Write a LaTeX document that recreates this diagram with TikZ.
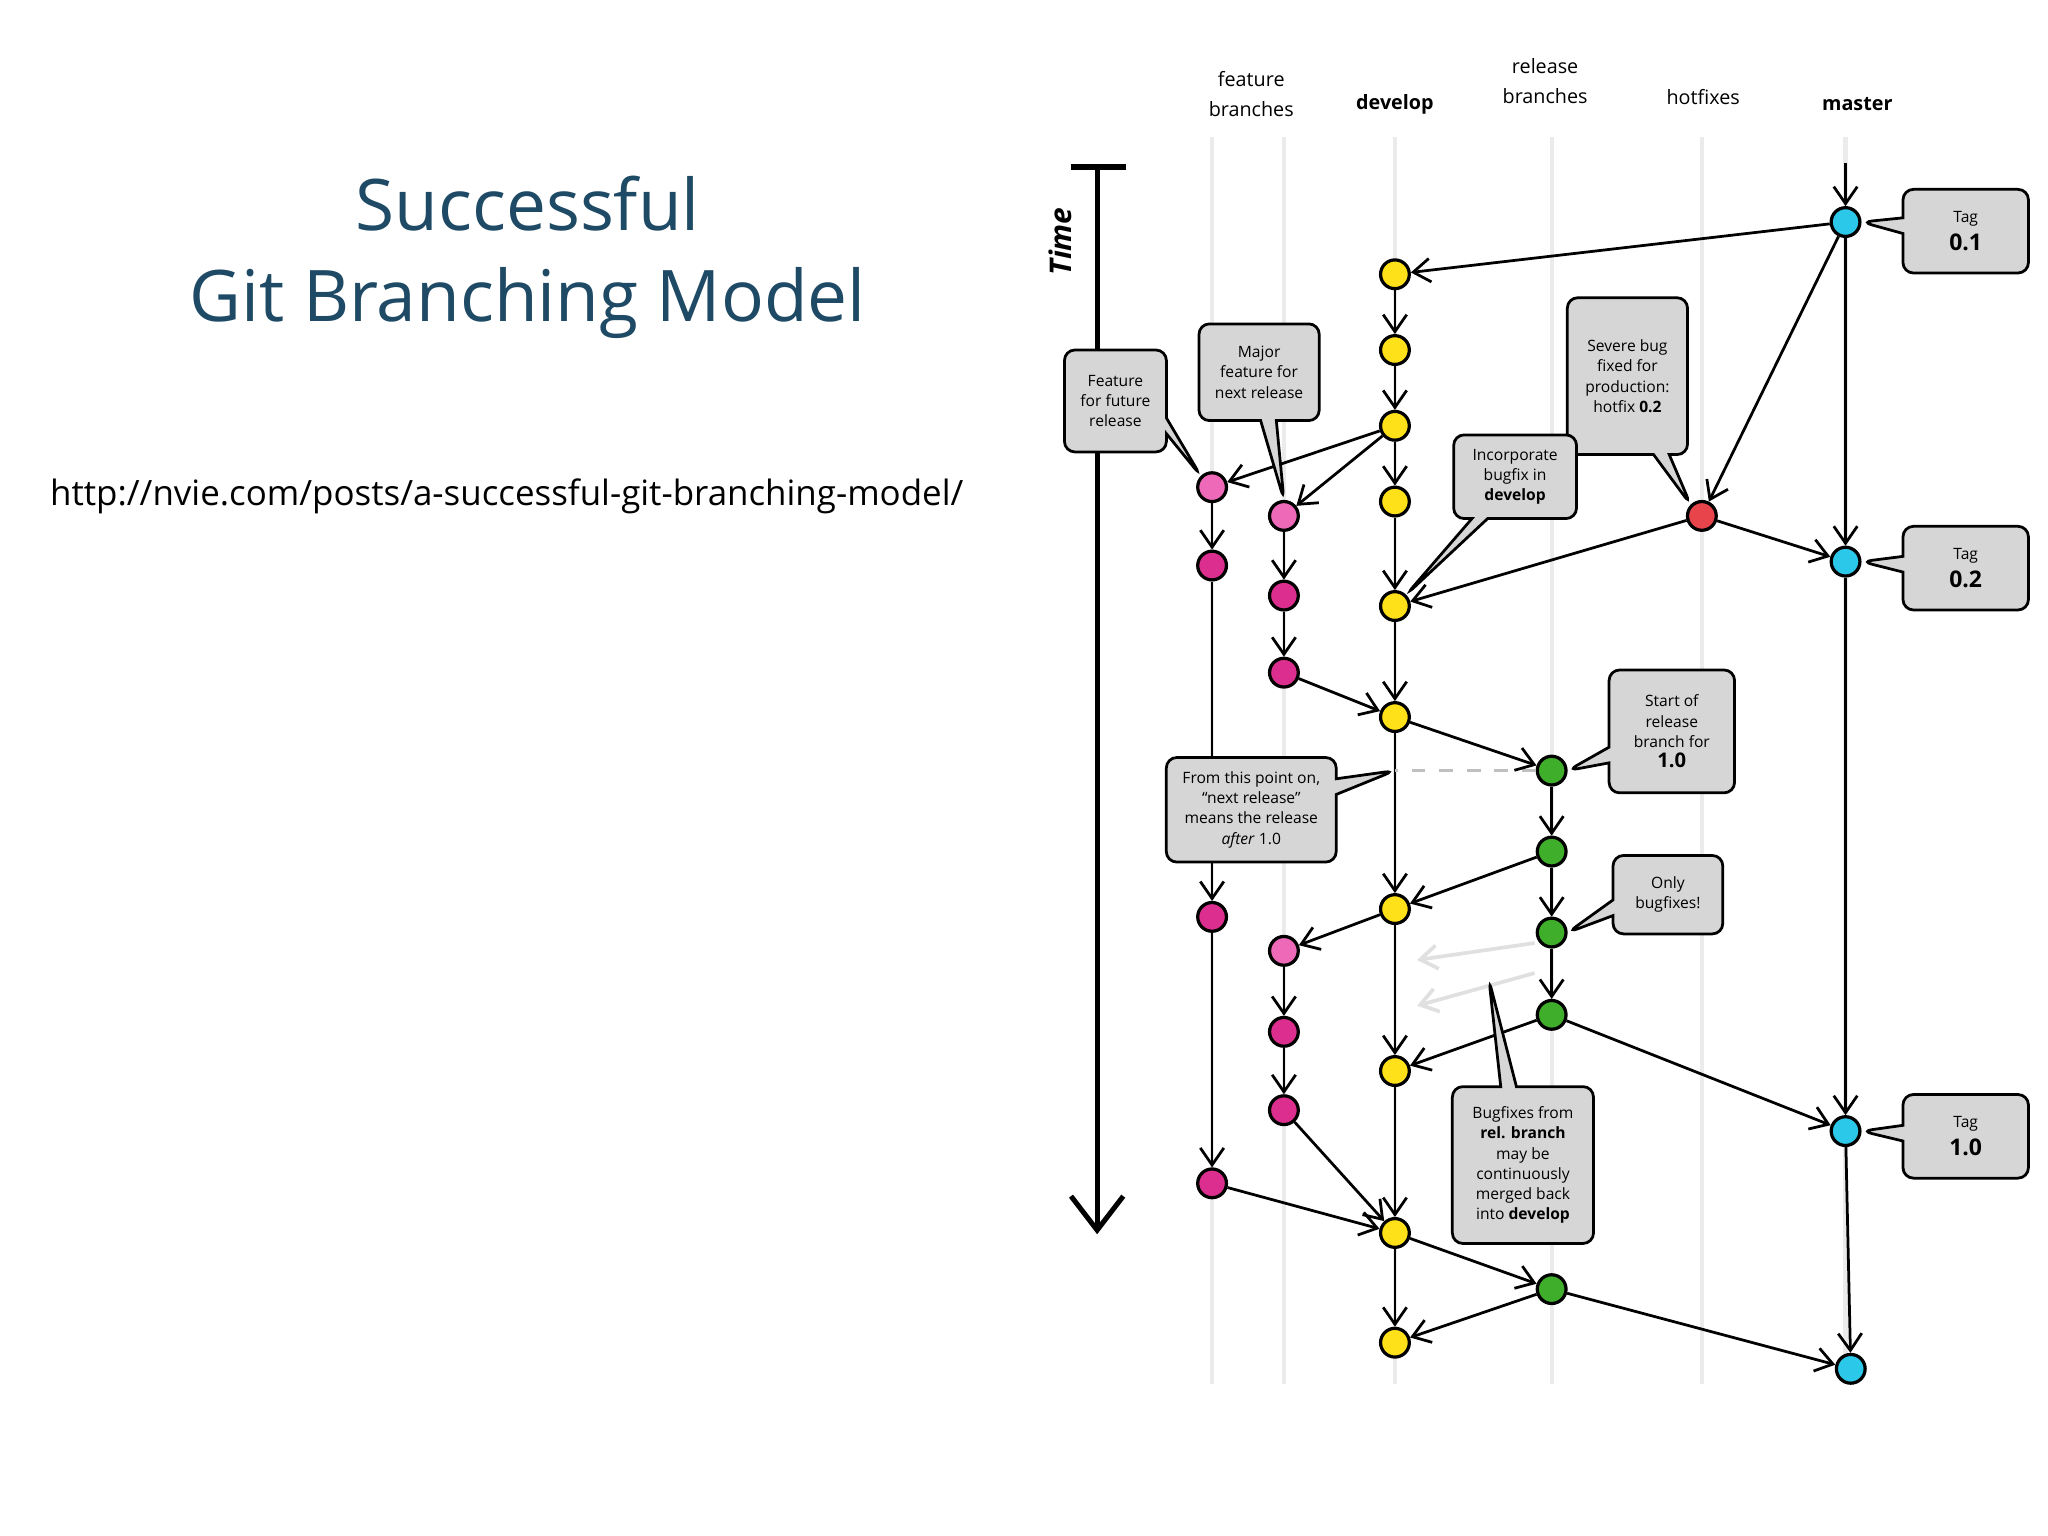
\documentclass[tikz,border=0pt]{standalone}
\usepackage{fontspec}
\setmainfont{Open Sans}
\usetikzlibrary{arrows.meta,shapes.callouts}

\definecolor{titleblue}{HTML}{1F4A66}
\definecolor{cyellow}{HTML}{FFE11A}
\definecolor{cpink}{HTML}{EE6AB8}
\definecolor{cmag}{HTML}{DC2E8E}
\definecolor{cgreen}{HTML}{3FAE2A}
\definecolor{ccyan}{HTML}{2CC8EA}
\definecolor{cred}{HTML}{E8444C}
\definecolor{boxgray}{HTML}{D6D6D6}

\tikzset{
  commit/.style={circle, draw=black, line width=0.7pt, minimum size=0.22cm, inner sep=0pt, fill=#1},
  flow/.style={draw=black, line width=0.6pt, -{Straight Barb[length=1.3mm,width=1.8mm]}},
  lane/.style={draw=black!8, line width=0.9pt},
  faint/.style={draw=black!12, line width=0.8pt, -{Straight Barb[length=1.3mm,width=1.8mm]}},
  tip/.style={rectangle callout, callout pointer width=0.12cm, rounded corners=0.08cm, draw=black, line width=0.6pt, fill=boxgray,
    align=center, font=\fontsize{3.4}{4.4}\selectfont, inner sep=0.06cm},
  head/.style={font=\fontsize{4.3}{6.5}\selectfont, align=center}
}

\begin{document}
\begin{tikzpicture}[x=0.01cm,y=-0.01cm]
	\path[use as bounding box, fill=white] (0,0) rectangle (1568,1176);

	\node[text=titleblue, font=\fontsize{15.5}{20}\selectfont, align=center] (title) at (404,197) {Successful\\Git Branching Model};
	\node[font=\fontsize{7.6}{9}\selectfont] (url) at (388,380) {http://nvie.com/posts/a-successful-git-branching-model/};

	% lanes
	\path[lane] (928,105) -- (928,1060);
	\path[lane] (983,105) -- (983,1060);
	\path[lane] (1068,105) -- (1068,1060);
	\path[lane] (1188,105) -- (1188,1060);
	\path[lane] (1303,105) -- (1303,1060);
	\path[lane] (1413,105) -- (1413,1060);

	\node[head] (hfeat) at (958,72) {feature\\branches};
	\node[head] (hdev) at (1068,80) {\bfseries develop};
	\node[head] (hrel) at (1183,62) {release\\branches};
	\node[head] (hhot) at (1304,74) {hotfixes};
	\node[head] (hmas) at (1422,80) {\bfseries master};

	% time
	\coordinate (t0) at (840,128);
	\coordinate (t1) at (840,945);
	\draw[line width=1.1pt, -{Straight Barb[length=2.6mm,width=4mm]}] (t0) -- (t1);
	\draw[line width=1.4pt] (820,128) -- (862,128);
	\node[rotate=90, font=\fontsize{6.5}{8}\selectfont\bfseries\itshape] (time) at (812,185) {Time};

	% commits
	\node[commit=ccyan] (m1) at (1413,170) {};
	\node[commit=ccyan] (m2) at (1413,430) {};
	\node[commit=ccyan] (m3) at (1413,866) {};
	\node[commit=ccyan] (m4) at (1417,1048) {};

	\node[commit=cyellow] (d1) at (1068,210) {};
	\node[commit=cyellow] (d2) at (1068,268) {};
	\node[commit=cyellow] (d3) at (1068,326) {};
	\node[commit=cyellow] (d4) at (1068,384) {};
	\node[commit=cyellow] (d5) at (1068,464) {};
	\node[commit=cyellow] (d6) at (1068,549) {};
	\node[commit=cyellow] (d7) at (1068,696) {};
	\node[commit=cyellow] (d8) at (1068,820) {};
	\node[commit=cyellow] (d9) at (1068,944) {};
	\node[commit=cyellow] (d10) at (1068,1028) {};

	\node[commit=cpink] (f1) at (928,373) {};
	\node[commit=cmag] (f2) at (928,433) {};
	\node[commit=cmag] (f3) at (928,702) {};
	\node[commit=cmag] (f4) at (928,906) {};

	\node[commit=cpink] (g1) at (983,395) {};
	\node[commit=cmag] (g2) at (983,456) {};
	\node[commit=cmag] (g3) at (983,515) {};
	\node[commit=cpink] (g4) at (983,728) {};
	\node[commit=cmag] (g5) at (983,790) {};
	\node[commit=cmag] (g6) at (983,850) {};

	\node[commit=cgreen] (r1) at (1188,590) {};
	\node[commit=cgreen] (r2) at (1188,652) {};
	\node[commit=cgreen] (r3) at (1188,714) {};
	\node[commit=cgreen] (r4) at (1188,777) {};
	\node[commit=cgreen] (r5) at (1188,987) {};

	\node[commit=cred] (h1) at (1303,395) {};

	% master
	\coordinate (mtop) at (1413,125);
	\draw[flow] (mtop) -- (m1);
	\draw[flow] (m1) -- (m2);
	\draw[flow] (m2) -- (m3);
	\draw[flow] (m3) -- (m4);
	\draw[flow] (m1) -- (d1);
	\draw[flow] (m1) -- (h1);
	\draw[flow] (h1) -- (m2);
	\draw[flow] (h1) -- (d5);
	\draw[flow] (r4) -- (m3);
	\draw[flow] (r5) -- (m4);

	% develop
	\draw[flow] (d1) -- (d2);
	\draw[flow] (d2) -- (d3);
	\draw[flow] (d3) -- (d4);
	\draw[flow] (d4) -- (d5);
	\draw[flow] (d5) -- (d6);
	\draw[flow] (d6) -- (d7);
	\draw[flow] (d7) -- (d8);
	\draw[flow] (d8) -- (d9);
	\draw[flow] (d9) -- (d10);

	% features
	\draw[flow] (d3) -- (f1);
	\draw[flow] (d3) -- (g1);
	\draw[flow] (f1) -- (f2);
	\draw[flow] (f2) -- (f3);
	\draw[flow] (f3) -- (f4);
	\draw[flow] (f4) -- (d9);
	\draw[flow] (g1) -- (g2);
	\draw[flow] (g2) -- (g3);
	\draw[flow] (g3) -- (d6);
	\draw[flow] (d7) -- (g4);
	\draw[flow] (g4) -- (g5);
	\draw[flow] (g5) -- (g6);
	\draw[flow] (g6) -- (d9);

	% release
	\coordinate (dcut) at (1068,590);
	\draw[black!25, dashed, line width=0.6pt] (r1) -- (dcut);
	\draw[flow] (d6) -- (r1);
	\draw[flow] (r1) -- (r2);
	\draw[flow] (r2) -- (r3);
	\draw[flow] (r3) -- (r4);
	\draw[flow] (r2) -- (d7);
	\draw[flow] (r4) -- (d8);
	\draw[flow] (d9) -- (r5);
	\draw[flow] (r5) -- (d10);
	\coordinate (fa0) at (1175,722);
	\coordinate (fa1) at (1085,735);
	\coordinate (fb0) at (1175,745);
	\coordinate (fb1) at (1085,770);
	\draw[faint] (fa0) -- (fa1);
	\draw[faint] (fb0) -- (fb1);

	% notes
	\node[tip, minimum width=0.96cm, minimum height=0.64cm, callout absolute pointer={(m1.east)}] (tag1) at (1505,177) {Tag\\[0.02cm]{\fontsize{5}{6}\selectfont\bfseries 0.1}};
	\node[tip, minimum width=0.96cm, minimum height=0.64cm, callout absolute pointer={(m2.east)}] (tag2) at (1505,435) {Tag\\[0.02cm]{\fontsize{5}{6}\selectfont\bfseries 0.2}};
	\node[tip, minimum width=0.96cm, minimum height=0.64cm, callout absolute pointer={(m3.east)}] (tag3) at (1505,870) {Tag\\[0.02cm]{\fontsize{5}{6}\selectfont\bfseries 1.0}};
	\node[tip, minimum width=0.78cm, minimum height=0.78cm, callout absolute pointer={(f1.north west)}] (nfut) at (854,307) {Feature\\for future\\release};
	\node[tip, minimum width=0.92cm, minimum height=0.74cm, callout absolute pointer={(g1.north)}] (nmaj) at (964,285) {Major\\feature for\\next release};
	\node[tip, minimum width=0.92cm, minimum height=1.2cm, callout absolute pointer={(h1.north west)}] (nhot) at (1246,288) {Severe bug\\fixed for\\production:\\hotfix \textbf{0.2}};
	\node[tip, minimum width=0.94cm, minimum height=0.64cm, callout absolute pointer={(d5.north east)}] (ninc) at (1160,365) {Incorporate\\bugfix in\\\textbf{develop}};
	\node[tip, minimum width=0.96cm, minimum height=0.94cm, callout absolute pointer={(r1.east)}] (nsta) at (1280,560) {Start of\\release\\branch for\\{\fontsize{4.4}{5}\selectfont\bfseries 1.0}};
	\node[tip, minimum width=1.3cm, minimum height=0.8cm, callout absolute pointer={(dcut)}] (nnext) at (958,620) {From this point on,\\``next release''\\means the release\\\textit{after} 1.0};
	\node[tip, minimum width=0.84cm, minimum height=0.6cm, callout absolute pointer={(r3.east)}] (nonly) at (1277,685) {Only\\bugfixes!};
	\node[tip, minimum width=1.08cm, minimum height=1.2cm, callout absolute pointer={(1140,750)}] (nbug) at (1166,892) {Bugfixes from\\\textbf{rel. branch}\\may be\\continuously\\merged back\\into \textbf{develop}};
\end{tikzpicture}
\end{document}
